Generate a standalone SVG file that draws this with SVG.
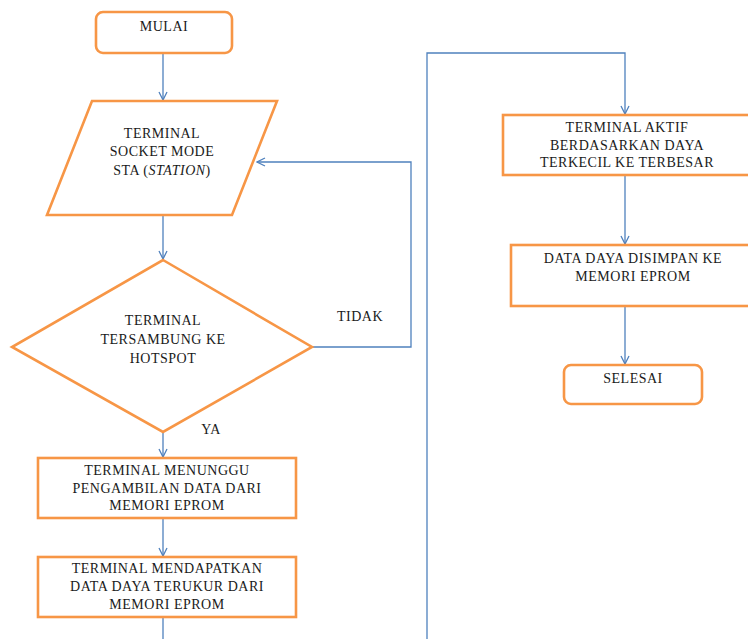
<svg xmlns="http://www.w3.org/2000/svg" width="748" height="639" viewBox="0 0 748 639">
<style>
.n{fill:#fff;stroke:#F79646;stroke-width:2.6}
.t{font-family:"Liberation Serif","Times New Roman",serif;font-size:14px;letter-spacing:0.5px;fill:#1a1a1a;text-anchor:middle}
.c{fill:none;stroke:#4F81BD;stroke-width:1.3}
</style>
<defs>
<marker id="a" viewBox="0 0 10 10" refX="9" refY="5" markerWidth="10" markerHeight="10" markerUnits="userSpaceOnUse" orient="auto">
<path d="M1,1 L9,5 L1,9" fill="none" stroke="#4F81BD" stroke-width="1.3"/>
</marker>
</defs>
<rect width="748" height="639" fill="#fff"/>
<g id="connectors">
<path class="c" d="M163,53 V100" marker-end="url(#a)"/>
<path class="c" d="M163,215 V259" marker-end="url(#a)"/>
<path class="c" d="M312,347 H411 V162 H257" marker-end="url(#a)"/>
<path class="c" d="M163,432 V457" marker-end="url(#a)"/>
<path class="c" d="M163,518 V556" marker-end="url(#a)"/>
<path class="c" d="M163,617 V639"/>
<path class="c" d="M427,639 V53 H625 V114" marker-end="url(#a)"/>
<path class="c" d="M625,175 V244" marker-end="url(#a)"/>
<path class="c" d="M625,306 V364" marker-end="url(#a)"/>
</g>
<g id="mulai">
<rect class="n" x="96" y="12" width="136" height="41" rx="7"/>
<text class="t" x="164" y="31">MULAI</text>
</g>
<g id="socket">
<polygon class="n" points="92,101 277,101 232,215 47,215"/>
<text class="t" x="162" y="138">TERMINAL</text>
<text class="t" x="162" y="156">SOCKET MODE</text>
<text class="t" x="162" y="175">STA (<tspan font-style="italic">STATION</tspan>)</text>
</g>
<g id="decision">
<polygon class="n" points="163,260 312,347 163,432 12,347"/>
<text class="t" x="163" y="325">TERMINAL</text>
<text class="t" x="163" y="344">TERSAMBUNG KE</text>
<text class="t" x="163" y="363">HOTSPOT</text>
</g>
<g id="labels">
<text class="t" x="360" y="321">TIDAK</text>
<text class="t" x="211" y="434">YA</text>
</g>
<g id="menunggu">
<rect class="n" x="38" y="458" width="258" height="60"/>
<text class="t" x="167" y="475">TERMINAL MENUNGGU</text>
<text class="t" x="167" y="493">PENGAMBILAN DATA DARI</text>
<text class="t" x="167" y="510">MEMORI EPROM</text>
</g>
<g id="mendapatkan">
<rect class="n" x="38" y="557" width="258" height="60"/>
<text class="t" x="167" y="573">TERMINAL MENDAPATKAN</text>
<text class="t" x="167" y="591">DATA DAYA TERUKUR DARI</text>
<text class="t" x="167" y="609">MEMORI EPROM</text>
</g>
<g id="aktif">
<rect class="n" x="503" y="115" width="260" height="60"/>
<text class="t" x="627" y="132">TERMINAL AKTIF</text>
<text class="t" x="627" y="150">BERDASARKAN DAYA</text>
<text class="t" x="627" y="167">TERKECIL KE TERBESAR</text>
</g>
<g id="simpan">
<rect class="n" x="511" y="245" width="252" height="61"/>
<text class="t" x="633" y="263">DATA DAYA DISIMPAN KE</text>
<text class="t" x="633" y="281">MEMORI EPROM</text>
</g>
<g id="selesai">
<rect class="n" x="564" y="365" width="138" height="39" rx="7"/>
<text class="t" x="633" y="383">SELESAI</text>
</g>
</svg>
